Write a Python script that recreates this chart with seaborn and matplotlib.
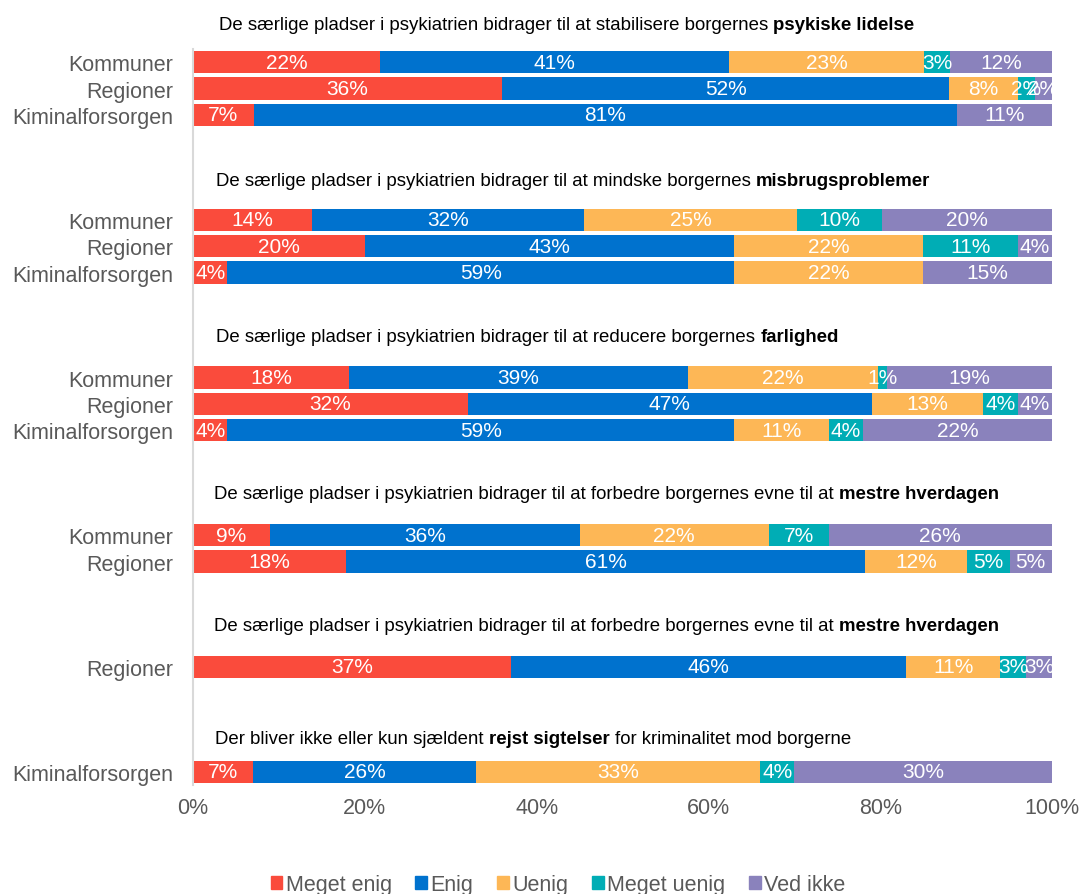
import numpy as np
import pandas as pd
import seaborn as sns
import matplotlib.pyplot as plt
from matplotlib.patches import Patch
from matplotlib.ticker import FuncFormatter

answers = ['Meget enig', 'Enig', 'Uenig', 'Meget uenig', 'Ved ikke']
colors = ['#FA4B3C', '#0072CE', '#FDB756', '#00ADB5', '#8A82BC']

# question texts: (normal part, bold part, trailing normal part)
titles = [
    ('De særlige pladser i psykiatrien bidrager til at stabilisere borgernes', 'psykiske lidelse', ''),
    ('De særlige pladser i psykiatrien bidrager til at mindske borgernes', 'misbrugsproblemer', ''),
    ('De særlige pladser i psykiatrien bidrager til at reducere borgernes', 'farlighed', ''),
    ('De særlige pladser i psykiatrien bidrager til at forbedre borgernes evne til at', 'mestre hverdagen', ''),
    ('De særlige pladser i psykiatrien bidrager til at forbedre borgernes evne til at', 'mestre hverdagen', ''),
    ('Der bliver ikke eller kun sjældent', 'rejst sigtelser', 'for kriminalitet mod borgerne'),
]

rows = ['Kommuner', 'Regioner', 'Kiminalforsorgen',
        'Kommuner', 'Regioner', 'Kiminalforsorgen',
        'Kommuner', 'Regioner', 'Kiminalforsorgen',
        'Kommuner', 'Regioner',
        'Regioner',
        'Kiminalforsorgen']
group = [0, 0, 0, 1, 1, 1, 2, 2, 2, 3, 3, 4, 5]

meget_enig = [22, 36, 7, 14, 20, 4, 18, 32, 4, 9, 18, 37, 7]
enig = [41, 52, 81, 32, 43, 59, 39, 47, 59, 36, 61, 46, 26]
uenig = [23, 8, 0, 25, 22, 22, 22, 13, 11, 22, 12, 11, 33]
meget_uenig = [3, 2, 0, 10, 11, 0, 1, 4, 4, 7, 5, 3, 4]
ved_ikke = [12, 2, 11, 20, 4, 15, 19, 4, 22, 26, 5, 3, 30]

sns.set_theme(style='white')
plt.rcParams['font.family'] = ['Liberation Sans', 'DejaVu Sans']

# slot positions: one slot per row, 3 empty slots between questions
pos = []
p, prev = 0, None
for g in group:
    if prev is not None:
        p += 1 if g == prev else 4
    pos.append(p)
    prev = g

counts = np.array([meget_enig, enig, uenig, meget_uenig, ved_ikke], dtype=float)
shares = counts / counts.sum(axis=0) * 100
cum = shares.cumsum(axis=0)

fig = plt.figure(figsize=(10.81, 8.95), dpi=100)
ax = fig.add_axes([0.1785, 0.1218, 0.7947, 0.8222])

# stacked bars: draw cumulative totals back to front
for k in reversed(range(len(answers))):
    df = pd.DataFrame({'end': cum[k], 'pos': pos})
    sns.barplot(data=df, x='end', y='pos', orient='h', native_scale=True,
                color=colors[k], saturation=1, width=0.85, errorbar=None,
                linewidth=0, ax=ax)

for i, y in enumerate(pos):
    for k in range(len(answers)):
        v = int(counts[k, i])
        if v > 0:
            ax.text(cum[k, i] - shares[k, i] / 2, y, f'{v}%', ha='center', va='center',
                    color='white', fontsize=15)

# question titles
first_pos = {}
for g, y in zip(group, pos):
    first_pos.setdefault(g, y)
title_off = [1.45, 1.5, 1.58, 1.6, 1.56, 1.26]
title_x = [3.0, 2.7, 2.7, 2.5, 2.5, 2.6]
for g, (a, b, c) in enumerate(titles):
    t1 = ax.text(title_x[g], first_pos[g] - title_off[g], a, ha='left', va='center',
                 fontsize=13.4, color='black', clip_on=False)
    t2 = ax.annotate(b, xy=(1, 0), xycoords=t1, xytext=(3.7, 0), textcoords='offset points',
                     va='bottom', ha='left', fontsize=13.4, fontweight='bold', color='black')
    if c:
        ax.annotate(c, xy=(1, 0), xycoords=t2, xytext=(3.7, 0), textcoords='offset points',
                    va='bottom', ha='left', fontsize=13.4, color='black')

ax.set_xlim(0, 100)
ax.set_ylim(27.5, -0.5)
ax.set_xticks(range(0, 101, 20))
ax.xaxis.set_major_formatter(FuncFormatter(lambda v, _: f'{v:.0f}%'))
ax.set_yticks(pos)
ax.set_yticklabels(rows)
ax.set_xlabel('')
ax.set_ylabel('')
ax.tick_params(axis='x', length=0, pad=9, labelsize=15.5, labelcolor='#595959')
ax.tick_params(axis='y', length=0, pad=14, labelsize=15.5, labelcolor='#595959')
for s in ['top', 'right', 'bottom']:
    ax.spines[s].set_visible(False)
ax.spines['left'].set_color('#D9D9D9')
ax.spines['left'].set_linewidth(1.5)

handles = [Patch(color=c) for c in colors]
fig.legend(handles, answers, loc='center', bbox_to_anchor=(0.516, 0.011), ncol=5,
           frameon=False, fontsize=15.5, handlelength=0.55, handleheight=0.55,
           handletextpad=0.15, columnspacing=1.1, labelcolor='#595959')

fig.savefig('out.png', dpi=100)
